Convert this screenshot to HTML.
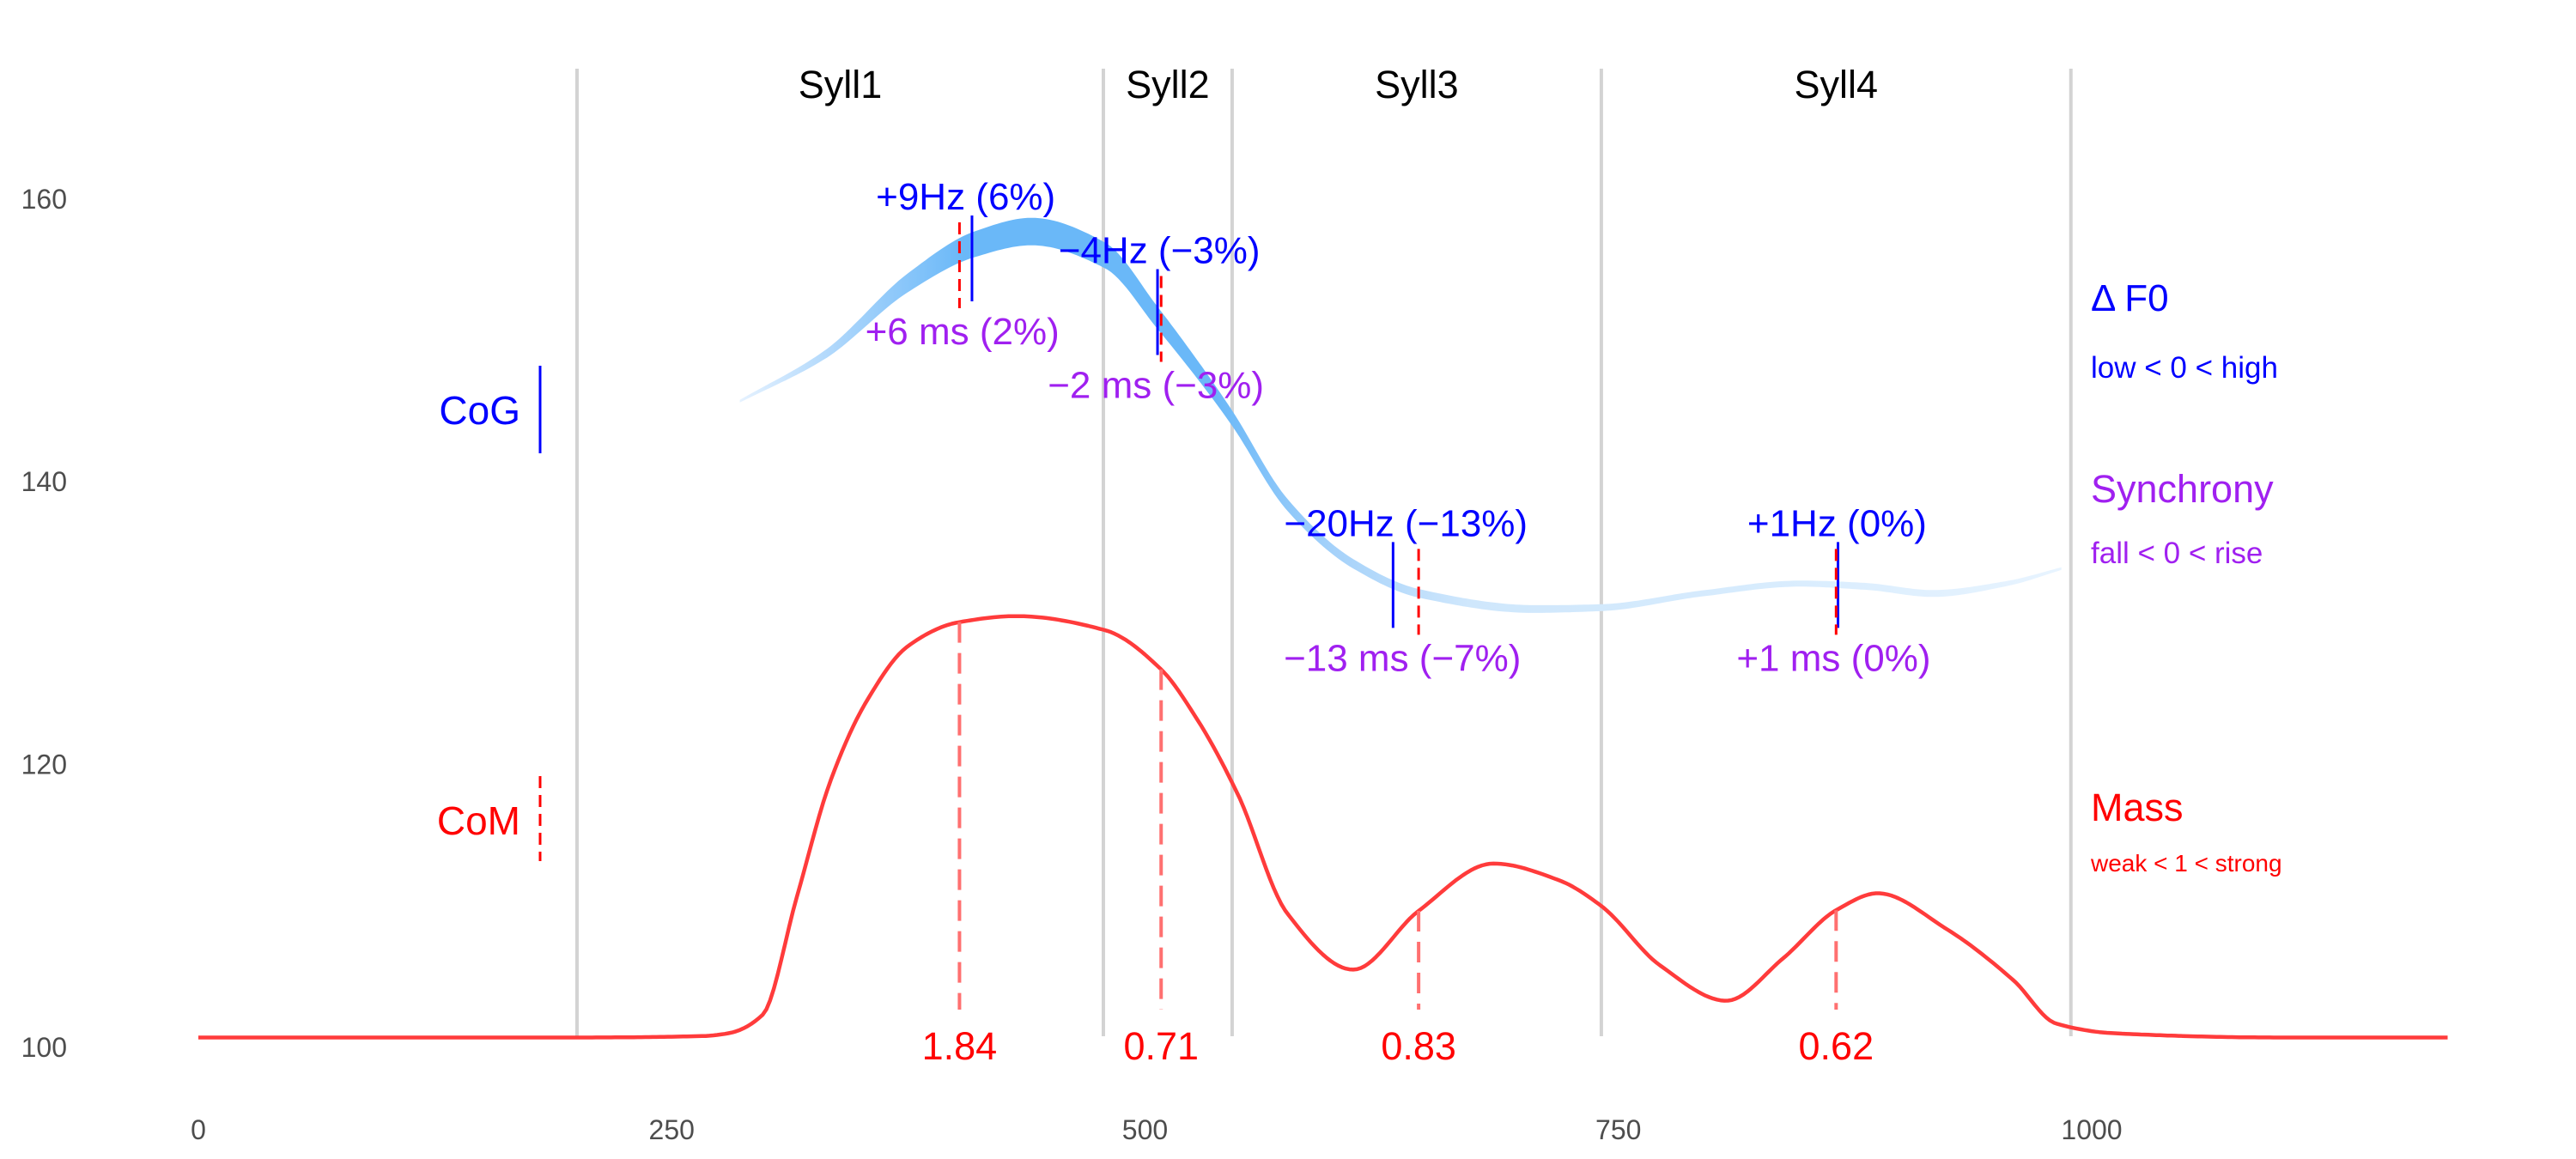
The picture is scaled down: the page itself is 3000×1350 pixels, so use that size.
<!DOCTYPE html>
<html><head><meta charset="utf-8"><style>
html,body{margin:0;padding:0;background:#fff;}
svg{display:block;font-family:"Liberation Sans",sans-serif;}
</style></head><body>
<svg id="chart" width="3000" height="1350" viewBox="0 0 3000 1350" xmlns="http://www.w3.org/2000/svg" style="position:absolute;left:0;top:0">
<defs>
<linearGradient id="f0grad" gradientUnits="userSpaceOnUse" x1="861" y1="0" x2="2404" y2="0">
<stop offset="0" stop-color="#e6f2ff"/>
<stop offset="0.08" stop-color="#a8d4fb"/>
<stop offset="0.17" stop-color="#6ab8f8"/>
<stop offset="0.36" stop-color="#6ab8f8"/>
<stop offset="0.45" stop-color="#a6d2fa"/>
<stop offset="0.55" stop-color="#cfe7fc"/>
<stop offset="0.75" stop-color="#d6ebfd"/>
<stop offset="1" stop-color="#e8f4ff"/>
</linearGradient>
</defs>
<g id="grid"></g>
<g id="marks"></g>
<g id="labels"></g>
</svg>
<script>
const xTicks = [0, 250, 500, 750, 1000];
const yTicks = [100, 120, 140, 160];
const boundaries = [200, 478, 546, 741, 989];
const syllNames = ["Syll1", "Syll2", "Syll3", "Syll4"];
const massT = [0,100,200,266,280,298,316,334,353,375,401,432,479,508,528,549,575,610,644,684,719,741,772,807,837,865,887,923,959,981,1012,1100,1188];
const massV = [100.7,100.7,100.7,100.8,101.0,102.3,110.6,118.9,124.5,128.4,130.05,130.5,129.5,126.8,123.1,117.9,109.5,105.5,109.6,113.0,111.8,110.0,105.8,103.3,106.3,109.7,110.9,108.4,104.7,101.7,101.0,100.7,100.7];
const f0T = [286,331,375,410,440,479,506,545,575,610,645,706,741,794,846,881,916,955,985];
const f0V = [145.7,149.0,154.1,156.8,157.7,156.0,151.7,144.7,138.4,134.2,132.1,131.0,131.1,132.1,132.8,132.6,132.1,132.8,133.9];
const f0W = [3,10,22,30,32,30,26,18,14,11,10,9,8,7,7,8,8,6,3];
const cogT = [408.6, 506.6, 631, 866];
const comT = [402, 508.5, 644.5, 865];
const markV = [155.8, 152.0, 132.7, 132.7];
const hzLabels = ["+9Hz (6%)", "\u22124Hz (\u22123%)", "\u221220Hz (\u221213%)", "+1Hz (0%)"];
const msLabels = ["+6 ms (2%)", "\u22122 ms (\u22123%)", "\u221213 ms (\u22127%)", "+1 ms (0%)"];
const massLabels = ["1.84", "0.71", "0.83", "0.62"];

const NS = "http://www.w3.org/2000/svg";
const X = t => 231 + 2.205 * t;
const Y = v => 1220 - (v - 100) * 16.47;
const grid = document.getElementById('grid');
const marks = document.getElementById('marks');
const labels = document.getElementById('labels');
function mk(tag, attrs, parent, text) {
  const e = document.createElementNS(NS, tag);
  for (const k in attrs) e.setAttribute(k, attrs[k]);
  if (text !== undefined) e.textContent = text;
  parent.appendChild(e);
  return e;
}
function monotone(xs, ys) {
  const n = xs.length, d = [], m = new Array(n);
  for (let i = 0; i < n - 1; i++) d.push((ys[i+1] - ys[i]) / (xs[i+1] - xs[i]));
  m[0] = d[0]; m[n-1] = d[n-2];
  for (let i = 1; i < n - 1; i++) {
    if (d[i-1] * d[i] <= 0) m[i] = 0;
    else { const w1 = 2*(xs[i+1]-xs[i]) + (xs[i]-xs[i-1]), w2 = (xs[i+1]-xs[i]) + 2*(xs[i]-xs[i-1]);
      m[i] = (w1 + w2) / (w1 / d[i-1] + w2 / d[i]); }
  }
  return t => {
    let i = 0;
    while (i < n - 2 && t > xs[i+1]) i++;
    const h = xs[i+1] - xs[i], s = Math.min(1, Math.max(0, (t - xs[i]) / h));
    const h00 = 2*s*s*s - 3*s*s + 1, h10 = s*s*s - 2*s*s + s, h01 = -2*s*s*s + 3*s*s, h11 = s*s*s - s*s;
    return h00*ys[i] + h10*h*m[i] + h01*ys[i+1] + h11*h*m[i+1];
  };
}
const massF = monotone(massT, massV);
const f0F = monotone(f0T, f0V);
const f0WF = monotone(f0T, f0W);
xTicks.forEach(t => {
  const e = mk('text', {x: X(t), y: 1327, 'text-anchor': 'middle', 'font-size': 32, fill: '#4d4d4d'}, labels, String(t));
  
  
});
yTicks.forEach(v => {
  const e = mk('text', {x: 78, y: Y(v) + 11, 'text-anchor': 'end', 'font-size': 32, fill: '#4d4d4d'}, labels, String(v));
  
  
});
boundaries.forEach(t => {
  const e = mk('line', {x1: X(t), x2: X(t), y1: 80, y2: 1207, stroke: '#d3d3d3', 'stroke-width': 4}, grid);
  
  
});
syllNames.forEach((n, i) => {
  const e = mk('text', {x: (X(boundaries[i]) + X(boundaries[i+1])) / 2, y: 114, 'text-anchor': 'middle', 'font-size': 45, fill: '#000'}, labels, n);
  
  
});
{
  const top = [], bot = [];
  for (let t = f0T[0]; t <= f0T[f0T.length-1]; t += 2) {
    const v = f0F(t), w = f0WF(t) / 2;
    top.push(X(t).toFixed(1) + ',' + (Y(v) - w).toFixed(1));
    bot.push(X(t).toFixed(1) + ',' + (Y(v) + w).toFixed(1));
  }
  const e = mk('polygon', {points: top.concat(bot.reverse()).join(' '), fill: 'url(#f0grad)'}, marks);
  
  
}
{
  const pts = [];
  for (let t = massT[0]; t <= massT[massT.length-1]; t += 2) pts.push(X(t).toFixed(1) + ',' + Y(massF(t)).toFixed(1));
  const e = mk('polyline', {points: pts.join(' '), fill: 'none', stroke: '#ff3b3b', 'stroke-width': 4.5, 'stroke-linejoin': 'round'}, marks);
  
  
}
for (let i = 0; i < cogT.length; i++) {
  const cy = Y(markV[i]);
  const b = mk('line', {x1: X(cogT[i]), x2: X(cogT[i]), y1: cy - 50, y2: cy + 50, stroke: '#0000ff', 'stroke-width': 3}, marks);
  
  
  const r = mk('line', {x1: X(comT[i]), x2: X(comT[i]), y1: cy - 42, y2: cy + 58, stroke: '#ff0000', 'stroke-width': 3, 'stroke-dasharray': '14,8'}, marks);
  
  
  const lx = (X(cogT[i]) + X(comT[i])) / 2;
  const h = mk('text', {x: lx, y: cy - 57, 'text-anchor': 'middle', 'font-size': 44, fill: '#0000ff'}, labels, hzLabels[i]);
  
  
  const m = mk('text', {x: lx - 4, y: cy + 100, 'text-anchor': 'middle', 'font-size': 44, fill: '#a020f0'}, labels, msLabels[i]);
  
  
  const mv = massF(comT[i]);
  const md = mk('line', {x1: X(comT[i]), x2: X(comT[i]), y1: Y(mv), y2: 1176, stroke: '#ff7070', 'stroke-width': 4, 'stroke-dasharray': '24,12'}, marks);
  
  
  const ml = mk('text', {x: X(comT[i]), y: 1234, 'text-anchor': 'middle', 'font-size': 45, fill: '#ff0000'}, labels, massLabels[i]);
  
  
}
</script>
<svg style="position:absolute;left:0;top:0" width="3000" height="1350" xmlns="http://www.w3.org/2000/svg" font-family="Liberation Sans, sans-serif">
<text x="606" y="494" text-anchor="end" font-size="46" fill="#0000ff">CoG</text>
<line x1="629" x2="629" y1="426" y2="528" stroke="#0000ff" stroke-width="3"/>
<text x="606" y="972" text-anchor="end" font-size="46" fill="#ff0000">CoM</text>
<line x1="629" x2="629" y1="904" y2="1003" stroke="#ff0000" stroke-width="3" stroke-dasharray="14,8"/>
<text x="2435" y="362" font-size="44" fill="#0000ff">Δ F0</text>
<text x="2435" y="440" font-size="35" fill="#0000ff">low &lt; 0 &lt; high</text>
<text x="2435" y="585" font-size="45" fill="#a020f0">Synchrony</text>
<text x="2435" y="656" font-size="35" fill="#a020f0">fall &lt; 0 &lt; rise</text>
<text x="2435" y="956" font-size="45" fill="#ff0000">Mass</text>
<text x="2435" y="1015" font-size="28" fill="#ff0000">weak &lt; 1 &lt; strong</text>
</svg>
</body></html>
